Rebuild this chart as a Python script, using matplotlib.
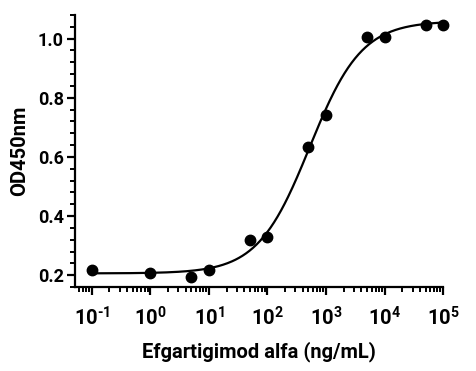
import numpy as np
import matplotlib
matplotlib.use("Agg")
import matplotlib.pyplot as plt
from matplotlib.ticker import FixedLocator, MultipleLocator, FuncFormatter, NullFormatter

plt.rcParams["font.family"] = ["Roboto", "DejaVu Sans"]
plt.rcParams["font.weight"] = "bold"
plt.rcParams["mathtext.fontset"] = "custom"
plt.rcParams["mathtext.rm"] = "Roboto:bold"
plt.rcParams["mathtext.bf"] = "Roboto:bold"

# measured points
conc = [0.1, 1, 5, 10, 50, 100, 500, 1000, 5000, 10000, 50000, 100000]
od450 = [0.217, 0.209, 0.194, 0.217, 0.318, 0.329, 0.635, 0.740, 1.005, 1.005, 1.047, 1.047]

x_decades = [-1, 0, 1, 2, 3, 4, 5]
x_label = "Efgartigimod alfa (ng/mL)"
y_label = "OD450nm"


def four_pl(x, bottom, top, log_ec50, hill):
    return bottom + (top - bottom) / (1 + 10 ** ((log_ec50 - np.log10(x)) * hill))


# simple 4PL fit: grid over ec50/hill, bottom/top solved linearly
x = np.array(conc)
y = np.array(od450)
best = None
for lec in np.linspace(1.5, 4.0, 251):
    for h in np.linspace(0.4, 2.5, 211):
        f = 1 / (1 + 10 ** ((lec - np.log10(x)) * h))
        A = np.column_stack([1 - f, f])
        coef, *_ = np.linalg.lstsq(A, y, rcond=None)
        err = np.sum((A @ coef - y) ** 2)
        if best is None or err < best[0]:
            best = (err, coef[0], coef[1], lec, h)
_, bottom, top, log_ec50, hill = best

fig = plt.figure(figsize=(4.77, 3.71), dpi=100)
ax = fig.add_axes([0.157, 0.226, 0.772, 0.734])

xs = np.logspace(-1, 5, 400)
ax.plot(xs, four_pl(xs, bottom, top, log_ec50, hill), color="black", lw=1.6, zorder=2, clip_on=False)
ax.plot(conc, od450, "o", color="black", ms=7.5, zorder=3, clip_on=False)

ax.set_xscale("log")
ax.set_xlim(10 ** -1.29, 10 ** 5.0)
ax.set_ylim(0.16, 1.08)

ax.spines["top"].set_visible(False)
ax.spines["right"].set_visible(False)
for s in ["left", "bottom"]:
    ax.spines[s].set_linewidth(1.6)


def exp_label(v, p):
    e = int(round(np.log10(v)))
    e_txt = r"\text{-}%d" % -e if e < 0 else "%d" % e
    return r"$\mathbf{10^{%s}}$" % e_txt


major_x = [10.0 ** d for d in x_decades]
minor_x = [m * 10.0 ** d for d in [-2] + x_decades[:-1] for m in range(2, 10)]
minor_x = [v for v in minor_x if v >= 10 ** -1.29]
ax.xaxis.set_major_locator(FixedLocator(major_x))
ax.xaxis.set_minor_locator(FixedLocator(minor_x))
ax.xaxis.set_minor_formatter(NullFormatter())
ax.xaxis.set_major_formatter(FuncFormatter(exp_label))

ax.yaxis.set_major_locator(MultipleLocator(0.2))
ax.yaxis.set_minor_locator(MultipleLocator(0.04))
ax.yaxis.set_major_formatter(FuncFormatter(lambda v, p: "%.1f" % v))

ax.tick_params(which="major", length=6, width=1.6, labelsize=13)
ax.tick_params(which="minor", length=3.5, width=1.4)
ax.tick_params(axis="x", pad=8, labelsize=14.5)
ax.tick_params(axis="y", pad=2)

ax.set_xlabel(x_label, fontsize=14.5, fontweight="bold", labelpad=8)
ax.set_ylabel(y_label, fontsize=14.5, fontweight="bold", labelpad=6)

fig.savefig("out.png", dpi=100)
